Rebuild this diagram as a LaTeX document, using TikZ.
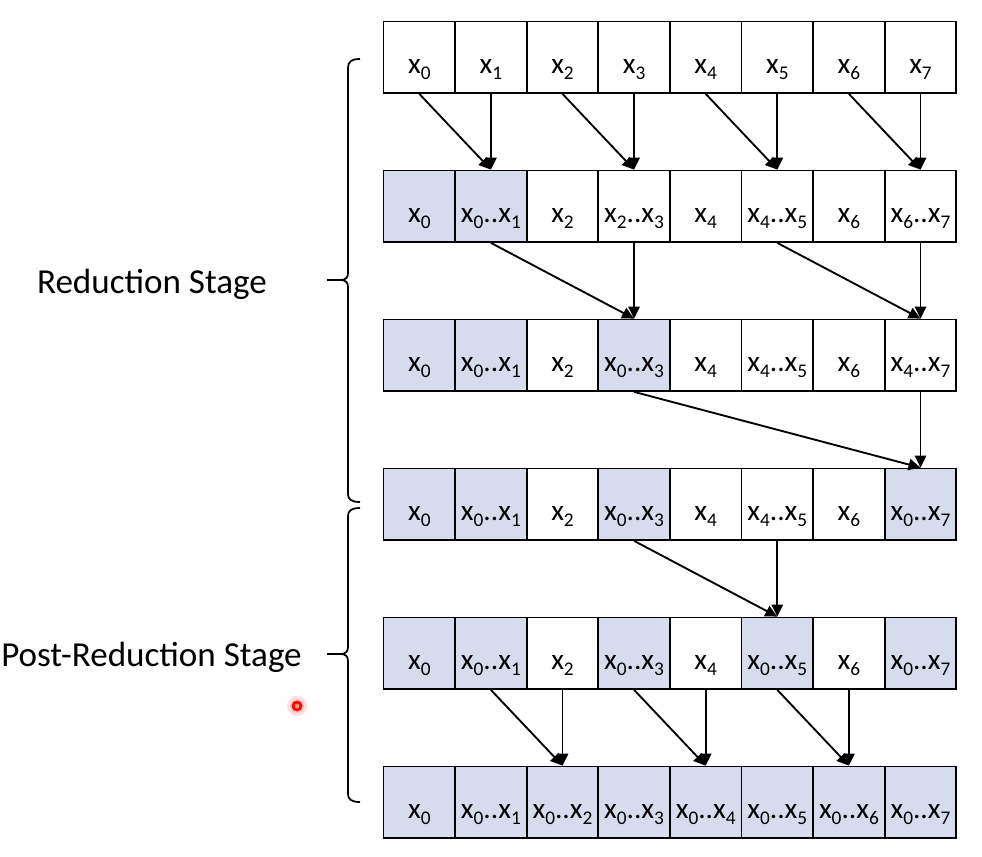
\documentclass[tikz,border=0pt]{standalone}
\usepackage{fontspec}
\setmainfont{Carlito}
\usetikzlibrary{arrows.meta}
\definecolor{cellblue}{RGB}{214,220,236}
\newcommand\sbs[1]{\raisebox{-0.22em}{\fontsize{14.5}{14.5}\selectfont #1}}
\newcommand\xv[1]{x\sbs{#1}}
\newcommand\rng[2]{x\sbs{#1}..x\sbs{#2}}
\begin{document}
\begin{tikzpicture}[x=0.75pt,y=-0.75pt,
  cell/.style={draw=black, line width=1.35pt, minimum width=53.7pt, minimum height=53.6pt,
    inner sep=0pt, text height=24pt, text depth=0pt, font=\fontsize{22}{26}\selectfont},
  plain/.style={cell, fill=white},
  shade/.style={cell, fill=cellblue},
  arr/.style={line width=1.4pt, -{Triangle[length=9pt,width=8.5pt]}},
  brace/.style={line width=1.3pt},
  stage/.style={font=\fontsize{26.3}{30}\selectfont, inner sep=0pt}]
\useasboundingbox (0,0) rectangle (982,857);
\fill[white] (0,0) rectangle (982,857);

% row 1
\foreach \c in {0,...,7}
  \node[plain] (r1c\c) at ({419.3+71.6*\c},57.25) {\xv{\c}};
% row 2
\foreach \c/\t/\s in {0/{\xv0}/shade,1/{\rng01}/shade,2/{\xv2}/plain,3/{\rng23}/plain,
                      4/{\xv4}/plain,5/{\rng45}/plain,6/{\xv6}/plain,7/{\rng67}/plain}
  \node[\s] (r2c\c) at ({419.3+71.6*\c},206.25) {\t};
% row 3
\foreach \c/\t/\s in {0/{\xv0}/shade,1/{\rng01}/shade,2/{\xv2}/plain,3/{\rng03}/shade,
                      4/{\xv4}/plain,5/{\rng45}/plain,6/{\xv6}/plain,7/{\rng47}/plain}
  \node[\s] (r3c\c) at ({419.3+71.6*\c},355.25) {\t};
% row 4
\foreach \c/\t/\s in {0/{\xv0}/shade,1/{\rng01}/shade,2/{\xv2}/plain,3/{\rng03}/shade,
                      4/{\xv4}/plain,5/{\rng45}/plain,6/{\xv6}/plain,7/{\rng07}/shade}
  \node[\s] (r4c\c) at ({419.3+71.6*\c},504.25) {\t};
% row 5
\foreach \c/\t/\s in {0/{\xv0}/shade,1/{\rng01}/shade,2/{\xv2}/plain,3/{\rng03}/shade,
                      4/{\xv4}/plain,5/{\rng05}/shade,6/{\xv6}/plain,7/{\rng07}/shade}
  \node[\s] (r5c\c) at ({419.3+71.6*\c},653.25) {\t};
% row 6
\node[shade] (r6c0) at (419.3,802.25) {\xv0};
\foreach \c in {1,...,7}
  \node[shade] (r6c\c) at ({419.3+71.6*\c},802.25) {\rng0{\c}};

% arrows
\foreach \a/\b in {0/1,1/1,2/3,3/3,4/5,5/5,6/7,7/7}
  \draw[arr] (r1c\a.south) -- (r2c\b.north);
\foreach \a/\b in {1/3,3/3,5/7,7/7}
  \draw[arr] (r2c\a.south) -- (r3c\b.north);
\foreach \a/\b in {3/7,7/7}
  \draw[arr] (r3c\a.south) -- (r4c\b.north);
\foreach \a/\b in {3/5,5/5}
  \draw[arr] (r4c\a.south) -- (r5c\b.north);
\foreach \a/\b in {1/2,2/2,3/4,4/4,5/6,6/6}
  \draw[arr] (r5c\a.south) -- (r6c\b.north);

% braces
\draw[brace] (360,59) .. controls (351,59) and (348,62) .. (348,68) -- (348,273)
  .. controls (348,277) and (346,280) .. (341,280)
  .. controls (346,280) and (348,283) .. (348,287) -- (348,494)
  .. controls (348,499) and (351,502) .. (360,502);
\draw[brace] (327,280) -- (341,280);
\draw[brace] (360,508) .. controls (351,508) and (348,511) .. (348,516) -- (348,647)
  .. controls (348,651) and (346,654) .. (341,654)
  .. controls (346,654) and (348,657) .. (348,661) -- (348,794)
  .. controls (348,799) and (351,802) .. (360,802);
\draw[brace] (327,654) -- (341,654);

% labels
\node[stage, anchor=base] (red) at (152,293) {Reduction Stage};
\node[stage, anchor=base west] (post) at (1,666) {Post-Reduction Stage};

% pointer dot
\fill[red!12] (297,706) circle (10);
\fill[red!25] (297,706) circle (7);
\draw[red, line width=2pt] (297,706) circle (4);
\fill[red!40!orange!60] (297,706) circle (2);
\end{tikzpicture}
\end{document}
